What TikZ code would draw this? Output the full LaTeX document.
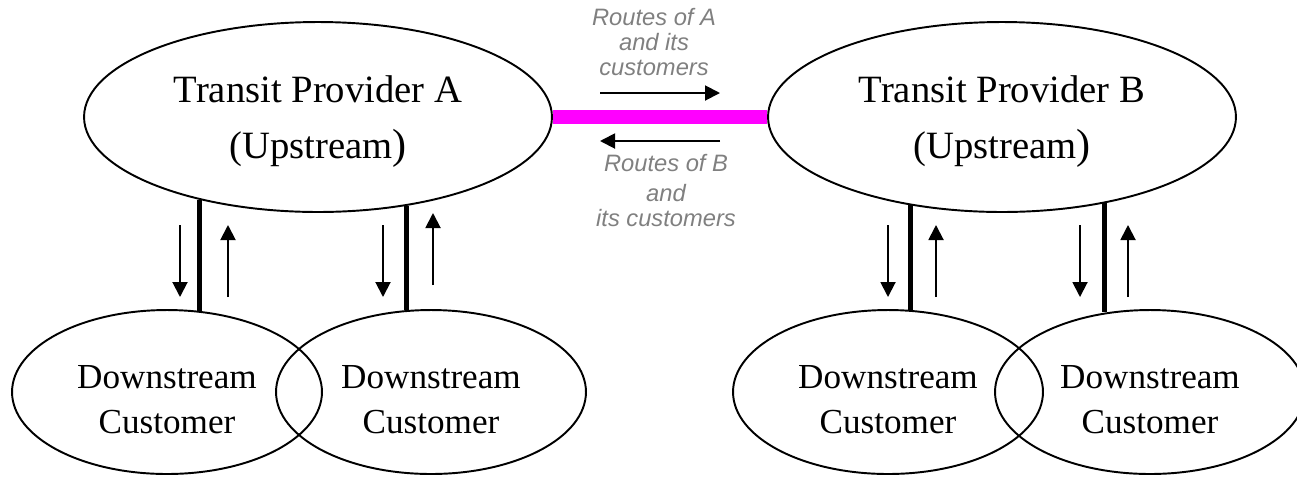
\documentclass[tikz,border=0pt]{standalone}
\usepackage{fontspec}
\setmainfont{Liberation Serif}
\newfontfamily\routefont{Liberation Sans}
\usetikzlibrary{shapes.geometric,arrows.meta,backgrounds}

\definecolor{peerpink}{RGB}{255,0,255}
\definecolor{routegray}{RGB}{128,128,128}

% closing paren comes out a bit larger in the provider labels
\newcommand{\bigclose}{{\fontsize{24}{32}\selectfont)}}

\tikzset{
  provider/.style={ellipse, draw=black, line width=1.1pt, minimum width=9.36cm, minimum height=3.8cm, inner sep=0pt},
  customer/.style={ellipse, draw=black, line width=1.1pt, minimum width=6.2cm, minimum height=3.28cm, inner sep=0pt},
  provtext/.style={align=center, inner sep=0pt, font=\fontsize{22}{32}\selectfont},
  custtext/.style={align=center, inner sep=0pt, font=\fontsize{20}{25.6}\selectfont},
  routetext/.style={align=center, inner sep=0pt, text=routegray, font=\routefont\itshape\fontsize{13.5}{14.2}\selectfont},
  trunk/.style={line width=3pt},
  peer/.style={line width=8.5pt, draw=peerpink},
  flow/.style={line width=1.1pt, -{Triangle[length=0.3cm,width=0.3cm]}},
}

\begin{document}
\begin{tikzpicture}[x=0.02cm, y=-0.02cm]
    \useasboundingbox (0,0) rectangle (1297,478);

    % upstream providers
    \node[provider] (A) at (318,117) {};
    \node[provider] (B) at (1002,117) {};
    \node[provtext] (A-text) at ([yshift=-0.09cm]A.center) {Transit Provider A\\(Upstream\bigclose};
    \node[provtext] (B-text) at ([yshift=-0.09cm]B.center) {Transit Provider B\\(Upstream\bigclose};

    % downstream customers
    \node[customer] (c1) at (167,392) {};
    \node[customer] (c2) at (431,392) {};
    \node[customer] (c3) at (888,392) {};
    \node[customer] (c4) at (1150,392) {};
    \node[custtext] (c1-text) at ([yshift=-0.16cm]c1.center) {Downstream\\Customer};
    \node[custtext] (c2-text) at ([yshift=-0.16cm]c2.center) {Downstream\\Customer};
    \node[custtext] (c3-text) at ([yshift=-0.16cm]c3.center) {Downstream\\Customer};
    \node[custtext] (c4-text) at ([yshift=-0.16cm]c4.center) {Downstream\\Customer};

    % peering link
    \begin{pgfonlayer}{background}
      \draw[peer] (A) -- (B);
    \end{pgfonlayer}

    % transit links
    \draw[trunk] (A.215.7) -- (A.215.7 |- c1.65.7);
    \draw[trunk] (A.315.7) -- (A.315.7 |- c2.105.8);
    \draw[trunk] (B.224.3) -- (B.224.3 |- c3.73.5);
    \draw[trunk] (B.320.4) -- (B.320.4 |- c4.119.9);

    % routes going down / up along the transit links
    \foreach \x/\n in {180/a1, 383/a2, 888/b1, 1080/b2} {
      \coordinate (\n-down-top) at (\x,225);
      \coordinate (\n-down-bot) at (\x,297);
      \draw[flow] (\n-down-top) -- (\n-down-bot);
    }
    \foreach \x/\top/\bot/\n in {228/225/297/a1, 433/213/285/a2, 936/225/297/b1, 1128/225/297/b2} {
      \coordinate (\n-up-top) at (\x,\top);
      \coordinate (\n-up-bot) at (\x,\bot);
      \draw[flow] (\n-up-bot) -- (\n-up-top);
    }

    % routes exchanged over the peering link
    \coordinate (toB-start) at (600,93);
    \coordinate (toB-end) at (720,93);
    \coordinate (toA-start) at (720,141);
    \coordinate (toA-end) at (600,141);
    \draw[flow] (toB-start) -- (toB-end);
    \draw[flow] (toA-start) -- (toA-end);

    \node[routetext, anchor=south] (routesA) at (654,76) {Routes of A\\and its\\customers};
    \node[routetext, anchor=south] (routesB) at (666,227) {Routes of B\\[0.1cm]and\\its customers};
\end{tikzpicture}
\end{document}
